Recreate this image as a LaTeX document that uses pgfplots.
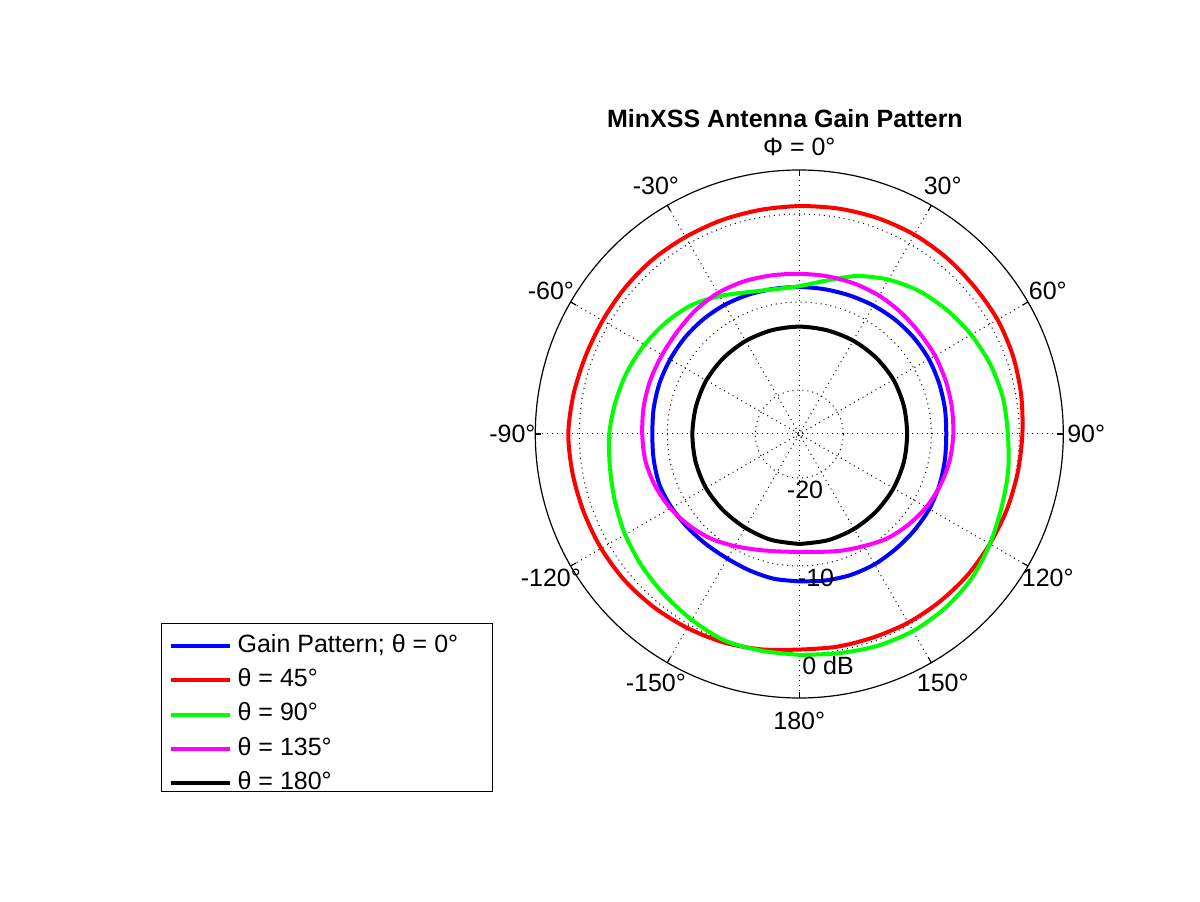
\documentclass[border=0pt]{standalone}
\usepackage{pgfplots}
\usepackage{pgfplotstable}
\pgfplotsset{compat=1.18}
\usepackage{fontspec}
\setmainfont{Liberation Sans}

\definecolor{mblue}{rgb}{0,0,1}
\definecolor{mred}{rgb}{1,0,0}
\definecolor{mgreen}{rgb}{0,1,0}
\definecolor{mmagenta}{rgb}{1,0,1}

% phi: degrees clockwise from top, db: gain in dB (radius = db + 25)
\pgfplotstableread{
phi db
-180 -8.25
-170 -8.3
-160 -8.5
-150 -8.65
-140 -8.6
-130 -8.45
-120 -8.25
-110 -8.1
-100 -8.2
-90 -8.3
-80 -8.2
-70 -8.1
-60 -8.05
-50 -8.0
-40 -8.0
-30 -8.05
-20 -8.15
-10 -8.25
0 -8.3
10 -8.3
20 -8.25
30 -8.15
40 -8.05
50 -8.0
60 -8.0
70 -8.1
80 -8.2
90 -8.3
100 -8.2
110 -8.05
120 -7.95
130 -7.95
140 -7.95
150 -7.9
160 -7.95
170 -8.1
180 -8.25
}\bluetab

\pgfplotstableread{
phi db
-180 -0.5
-170 -0.15
-160 0.2
-150 0.45
-140 0.7
-130 0.9
-120 1.0
-110 1.05
-100 1.15
-90 1.25
-80 1.05
-70 0.85
-60 0.8
-50 0.85
-40 0.9
-30 0.85
-20 0.85
-10 0.85
0 0.9
10 1.0
20 1.1
30 1.15
40 1.1
50 1.0
60 1.0
70 0.85
80 0.6
90 0.35
100 0.2
110 0.1
120 0.0
130 -0.05
140 -0.15
150 -0.25
160 -0.4
170 -0.45
180 -0.5
}\redtab

\pgfplotstableread{
phi db
-180 0.1
-170 0.0
-160 -0.05
-150 -0.6
-140 -1.15
-130 -1.65
-120 -2.15
-110 -2.7
-100 -3.15
-90 -3.4
-80 -3.8
-70 -4.2
-60 -4.7
-50 -5.25
-40 -5.9
-30 -6.9
-20 -7.85
-10 -8.3
0 -8.2
10 -7.3
20 -5.9
30 -4.75
40 -3.8
50 -3.1
60 -2.45
70 -1.9
80 -1.5
90 -1.3
100 -0.9
110 -0.55
120 0.0
130 0.55
140 0.8
150 0.85
160 0.65
170 0.3
180 0.1
}\greentab

\pgfplotstableread{
phi db
-180 -11.6
-170 -11.45
-160 -11.0
-150 -10.3
-140 -9.45
-130 -8.75
-120 -8.1
-110 -7.6
-100 -7.25
-90 -7.15
-80 -7.05
-70 -7.0
-60 -7.0
-50 -6.9
-40 -6.65
-30 -6.5
-20 -6.55
-10 -6.7
0 -6.8
10 -6.8
20 -6.8
30 -6.85
40 -7.0
50 -7.15
60 -7.2
70 -7.3
80 -7.4
90 -7.5
100 -7.65
110 -7.95
120 -8.35
130 -8.9
140 -9.5
150 -10.3
160 -10.9
170 -11.4
180 -11.6
}\magtab

\pgfplotstableread{
phi db
-180 -12.5
-165 -12.55
-150 -12.7
-135 -12.75
-120 -12.75
-105 -12.8
-90 -12.85
-75 -12.85
-60 -12.8
-45 -12.8
-30 -12.8
-15 -12.8
0 -12.8
15 -12.8
30 -12.75
45 -12.7
60 -12.65
75 -12.7
90 -12.75
105 -12.7
120 -12.65
135 -12.6
150 -12.55
165 -12.5
180 -12.5
}\blacktab

\begin{document}
\fontsize{12.5}{15}\selectfont
\begin{tikzpicture}
\path[use as bounding box] (0,0) rectangle (600pt,450.5pt);
\begin{axis}[
  at={(399.65pt,233.5pt)}, anchor=center,
  x=4.4pt, y=4.4pt,
  xmin=-30, xmax=30, ymin=-30, ymax=30,
  hide axis, clip=false,
  legend cell align=left,
  legend image code/.code={\draw[#1] (0pt,0pt) -- (29.5pt,0pt);},
  legend style={draw=none, fill=none, at={(axis cs:-72.45,-21.48)}, anchor=north west,
    inner xsep=3.6pt, inner ysep=3.6pt, row sep=1.65pt, column sep=0.9pt,
    font=\fontsize{12.5}{15}\selectfont,
    nodes={inner sep=1.75pt, text height=9pt, text depth=3pt}},
]
% grid rings (-20, -10, 0 dB) and spokes
\draw[dotted, line width=0.5pt] (axis cs:0,0) circle[radius=2pt];
\draw[dotted, line width=0.5pt] (axis cs:0,0) circle[radius=22pt];
\draw[dotted, line width=0.5pt] (axis cs:0,0) circle[radius=66pt];
\draw[dotted, line width=0.5pt] (axis cs:0,0) circle[radius=110pt];
\pgfplotsinvokeforeach{0,30,60,90,120,150}{
  \draw[dotted, line width=0.5pt] (axis cs:{30*sin(#1)},{30*cos(#1)}) -- (axis cs:{-30*sin(#1)},{-30*cos(#1)});
}
\draw[line width=0.6pt] (axis cs:0,0) circle[radius=132pt];
\pgfplotsinvokeforeach{0,30,60,90,120,150,180,210,240,270,300,330}{
  \draw[line width=0.6pt] (axis cs:{30*sin(#1)},{30*cos(#1)}) -- (axis cs:{29.3*sin(#1)},{29.3*cos(#1)});
}

\addplot[mblue, line width=2pt, smooth, mark=none] table[x expr={(\thisrow{db}+25)*sin(\thisrow{phi})}, y expr={(\thisrow{db}+25)*cos(\thisrow{phi})}] {\bluetab};
\addlegendentry{Gain Pattern; θ = 0°}
\addplot[mred, line width=2pt, smooth, mark=none] table[x expr={(\thisrow{db}+25)*sin(\thisrow{phi})}, y expr={(\thisrow{db}+25)*cos(\thisrow{phi})}] {\redtab};
\addlegendentry{θ = 45°}
\addplot[mgreen, line width=2pt, smooth, mark=none] table[x expr={(\thisrow{db}+25)*sin(\thisrow{phi})}, y expr={(\thisrow{db}+25)*cos(\thisrow{phi})}] {\greentab};
\addlegendentry{θ = 90°}
\addplot[mmagenta, line width=2pt, smooth, mark=none] table[x expr={(\thisrow{db}+25)*sin(\thisrow{phi})}, y expr={(\thisrow{db}+25)*cos(\thisrow{phi})}] {\magtab};
\addlegendentry{θ = 135°}
\addplot[black, line width=2pt, smooth, mark=none] table[x expr={(\thisrow{db}+25)*sin(\thisrow{phi})}, y expr={(\thisrow{db}+25)*cos(\thisrow{phi})}] {\blacktab};
\addlegendentry{θ = 180°}

% angle labels
\node at (axis cs:0,32.6) {Φ = 0°};
\pgfplotsinvokeforeach{30,60,90,120,150,180,-30,-60,-90,-120,-150}{
  \node at (axis cs:{32.6*sin(#1)},{32.6*cos(#1)}) {#1°};
}
% ring labels
\node at (axis cs:0.65,-6.36) {-20};
\node at (axis cs:1.9,-16.36) {-10};
\node at (axis cs:3.26,-26.3) {0 dB};
% title
\node[font=\fontsize{12.5}{15}\selectfont\bfseries] at (axis cs:-1.63,35.8) {MinXSS Antenna Gain Pattern};
% legend frame
\draw[line width=0.5pt] (axis cs:-72.45,-21.48) rectangle (axis cs:-34.84,-40.68);
\end{axis}
\end{tikzpicture}
\end{document}
